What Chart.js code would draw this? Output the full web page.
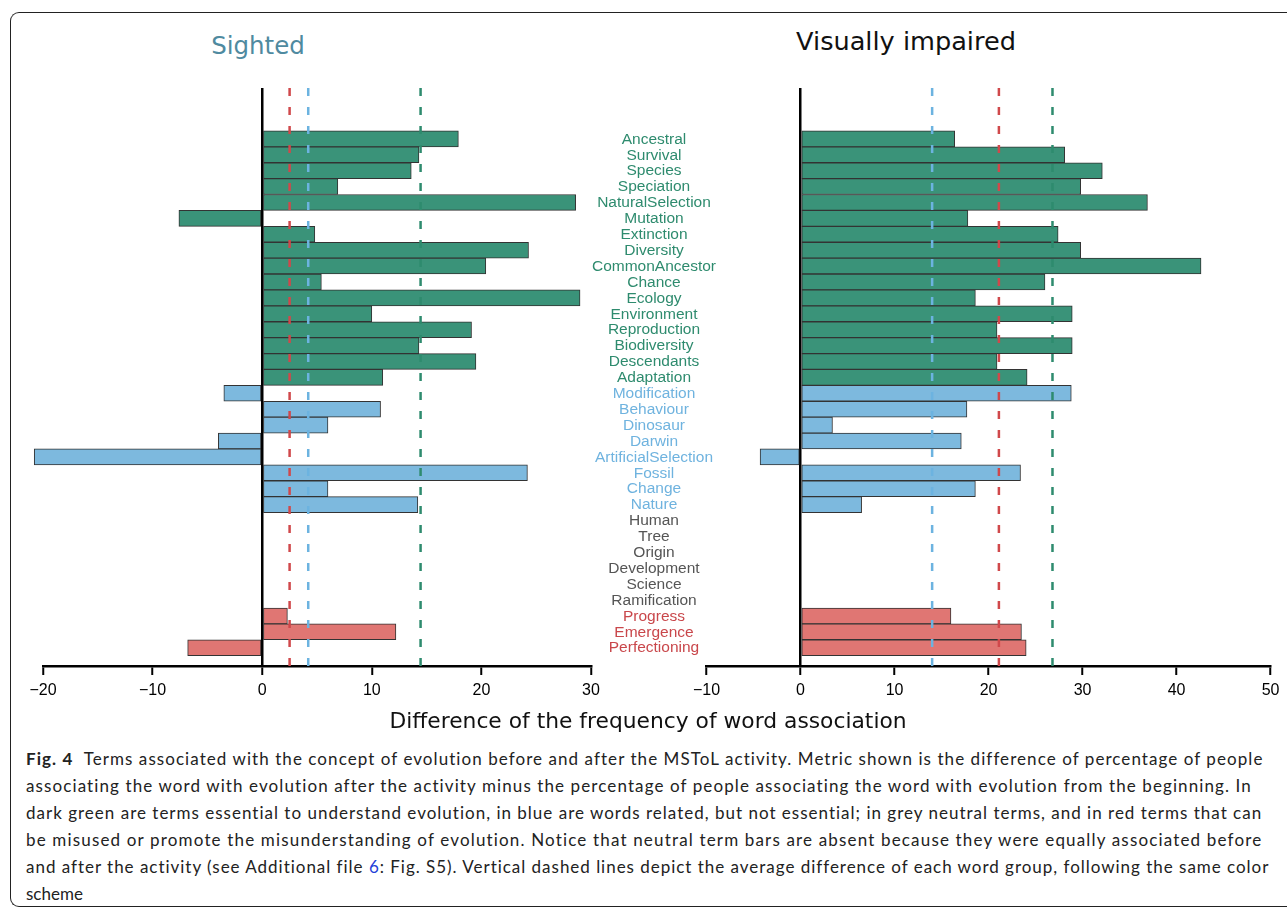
<!DOCTYPE html>
<html>
<head>
<meta charset="utf-8">
<script src="https://cdn.jsdelivr.net/npm/chart.js@4.4.0/dist/chart.umd.min.js"></script>
<style>
html, body { margin: 0; padding: 0; background: #fff; }
body { width: 1287px; height: 908px; position: relative; overflow: hidden; }
#frame { position: absolute; left: 10px; top: 12px; width: 1300px; height: 893px;
         border: 1.5px solid #222; border-right: none; border-radius: 9px 0 0 9px; }
.wrap { position: absolute; top: 0; height: 710px; }
#wrapL { left: 0; width: 610px; }
#wrapR { left: 560px; width: 727px; }
.title { position: absolute; font-family: "DejaVu Sans", sans-serif; white-space: nowrap;
         transform: translateX(-50%); line-height: 30px; }
#caption { position: absolute; left: 26px; top: 745px; font-family: Lato, sans-serif;
           font-size: 17px; line-height: 27px; color: #222; }
#caption div { white-space: nowrap; width: max-content; }
</style>
</head>
<body>
<div id="frame"></div>
<div class="title" style="left:258px; top:31px; font-size:24.5px; color:#4f8aa0;">Sighted</div>
<div class="title" style="left:906px; top:26px; font-size:25.6px; color:#111;">Visually impaired</div>
<div class="wrap" id="wrapL"><canvas id="chartL"></canvas></div>
<div class="wrap" id="wrapR"><canvas id="chartR"></canvas></div>
<div class="title" style="left:648px; top:708px; font-size:21.8px; color:#111; line-height:26px;">Difference of the frequency of word association</div>
<div id="caption">
<div data-w="1237"><b>Fig. 4</b>&nbsp; Terms associated with the concept of evolution before and after the MSToL activity. Metric shown is the difference of percentage of people</div>
<div data-w="1227">associating the word with evolution after the activity minus the percentage of people associating the word with evolution from the beginning. In</div>
<div data-w="1237">dark green are terms essential to understand evolution, in blue are words related, but not essential; in grey neutral terms, and in red terms that can</div>
<div data-w="1237">be misused or promote the misunderstanding of evolution. Notice that neutral term bars are absent because they were equally associated before</div>
<div data-w="1243">and after the activity (see Additional file <span style="color:#2440d8">6</span>: Fig. S5). Vertical dashed lines depict the average difference of each word group, following the same color</div>
<div>scheme</div>
</div>
<script>
//terms, top to bottom
var terms = [
    "Ancestral", "Survival", "Species", "Speciation", "NaturalSelection", "Mutation",
    "Extinction", "Diversity", "CommonAncestor", "Chance", "Ecology", "Environment",
    "Reproduction", "Biodiversity", "Descendants", "Adaptation",
    "Modification", "Behaviour", "Dinosaur", "Darwin", "ArtificialSelection",
    "Fossil", "Change", "Nature",
    "Human", "Tree", "Origin", "Development", "Science", "Ramification",
    "Progress", "Emergence", "Perfectioning"
];
var termGroups = [
    "essential", "essential", "essential", "essential", "essential", "essential",
    "essential", "essential", "essential", "essential", "essential", "essential",
    "essential", "essential", "essential", "essential",
    "related", "related", "related", "related", "related", "related", "related", "related",
    "neutral", "neutral", "neutral", "neutral", "neutral", "neutral",
    "misleading", "misleading", "misleading"
];
//difference of frequency (after - before), neutral terms have no bar
var sightedDiff = [
    17.9, 14.3, 13.6, 6.9, 28.6, -7.6, 4.8, 24.3, 20.4, 5.4, 29.0, 10.0, 19.1, 14.3, 19.5, 11.0,
    -3.5, 10.8, 6.0, -4.0, -20.8, 24.2, 6.0, 14.2,
    0, 0, 0, 0, 0, 0,
    2.3, 12.2, -6.8
];
var impairedDiff = [
    16.4, 28.1, 32.1, 29.8, 36.9, 17.8, 27.4, 29.8, 42.6, 26.0, 18.6, 28.9, 20.9, 28.9, 20.9, 24.1,
    28.8, 17.7, 3.4, 17.1, -4.3, 23.4, 18.6, 6.5,
    0, 0, 0, 0, 0, 0,
    16.0, 23.5, 24.0
];
//group averages (dashed lines)
var meanGroups = ["essential", "related", "misleading"];
var sightedMeans = [14.45, 4.2, 2.5];
var impairedMeans = [26.8, 14.0, 21.1];
//x tick labels
var sightedTicks = [-20, -10, 0, 10, 20, 30];
var impairedTicks = [-10, 0, 10, 20, 30, 40, 50];

var barColors = { essential: "#3a9379", related: "#7db9de", neutral: "#999999", misleading: "#e07673" };
var textColors = { essential: "#2e8b6e", related: "#6fb3df", neutral: "#555555", misleading: "#c9474b" };
var lineColors = { essential: "#2e8b6e", related: "#6cb3e0", misleading: "#d0484b" };

var tickFont = { family: '"Liberation Sans", Arial, sans-serif', size: 16 };

//dashed lines of group averages
var meanLines = {
    id: "meanLines",
    afterDatasetsDraw: function (chart, args, opts) {
        var x = chart.scales.x, a = chart.chartArea, ctx = chart.ctx;
        ctx.save();
        ctx.lineWidth = 2.5;
        ctx.setLineDash([8, 11]);
        for (var k = 0; k < opts.means.length; k++) {
            var px = x.getPixelForValue(opts.means[k]);
            ctx.strokeStyle = lineColors[meanGroups[k]];
            ctx.beginPath();
            ctx.moveTo(px, a.top);
            ctx.lineTo(px, a.bottom);
            ctx.stroke();
        }
        ctx.restore();
    }
};

//term names between the two panels
var termLabels = {
    id: "termLabels",
    afterDraw: function (chart, args, opts) {
        if (!opts.show) return;
        var y = chart.scales.y, ctx = chart.ctx;
        ctx.save();
        ctx.font = '15.5px "Liberation Sans", Arial, sans-serif';
        ctx.textAlign = "center";
        ctx.textBaseline = "middle";
        for (var i = 0; i < terms.length; i++) {
            ctx.fillStyle = textColors[termGroups[i]];
            ctx.fillText(terms[i], opts.x, y.getPixelForValue(i) + 0.5);
        }
        ctx.restore();
    }
};

function makePanel(canvasId, values, means, ticks, padding, labelX) {
    var points = [], colors = [];
    for (var i = 0; i < terms.length; i++) {
        if (termGroups[i] === "neutral") continue;
        points.push({ x: values[i], y: i });
        colors.push(barColors[termGroups[i]]);
    }
    return new Chart(document.getElementById(canvasId), {
        type: "bar",
        data: {
            datasets: [{
                data: points,
                backgroundColor: colors,
                borderColor: "#333",
                borderWidth: 1,
                borderSkipped: false,
                barPercentage: 1,
                categoryPercentage: 1,
                clip: false
            }]
        },
        options: {
            indexAxis: "y",
            animation: false,
            responsive: true,
            maintainAspectRatio: false,
            layout: { padding: padding },
            scales: {
                x: {
                    type: "linear",
                    min: ticks[0],
                    max: ticks[ticks.length - 1],
                    afterBuildTicks: function (s) {
                        s.ticks = ticks.map(function (v) { return { value: v }; });
                    },
                    afterFit: function (s) { s.height = 34; },
                    ticks: {
                        font: tickFont,
                        color: "#000",
                        padding: 6,
                        maxRotation: 0,
                        callback: function (v) { return v < 0 ? "\u2212" + Math.abs(v) : String(v); }
                    },
                    grid: {
                        drawOnChartArea: true,
                        color: function (c) { return c.tick && c.tick.value === 0 ? "#000" : "rgba(0,0,0,0)"; },
                        lineWidth: 2.5,
                        tickColor: "#000",
                        tickWidth: 2,
                        tickLength: 9
                    },
                    border: { display: true, color: "#000", width: 2.5 }
                },
                y: {
                    type: "linear",
                    reverse: true,
                    offset: false,
                    min: -3.2,
                    max: 33.15,
                    display: false,
                    grid: { offset: false }
                }
            },
            plugins: {
                legend: { display: false },
                tooltip: { enabled: false },
                meanLines: { means: means },
                termLabels: { show: labelX != null, x: labelX }
            }
        },
        plugins: [meanLines, termLabels]
    });
}

makePanel("chartL", sightedDiff, sightedMeans, sightedTicks,
    { left: 43, right: 19, top: 88, bottom: 10 }, null);
makePanel("chartR", impairedDiff, impairedMeans, impairedTicks,
    { left: 146.5, right: 16.4, top: 88, bottom: 10 }, 94);

//fit caption lines to the reference widths
var lines = document.querySelectorAll("#caption div[data-w]");
for (var i = 0; i < lines.length; i++) {
    var el = lines[i];
    var target = +el.getAttribute("data-w");
    var w = el.getBoundingClientRect().width;
    var n = el.textContent.length;
    el.style.letterSpacing = ((target - w) / n).toFixed(3) + "px";
}
</script>
</body>
</html>
